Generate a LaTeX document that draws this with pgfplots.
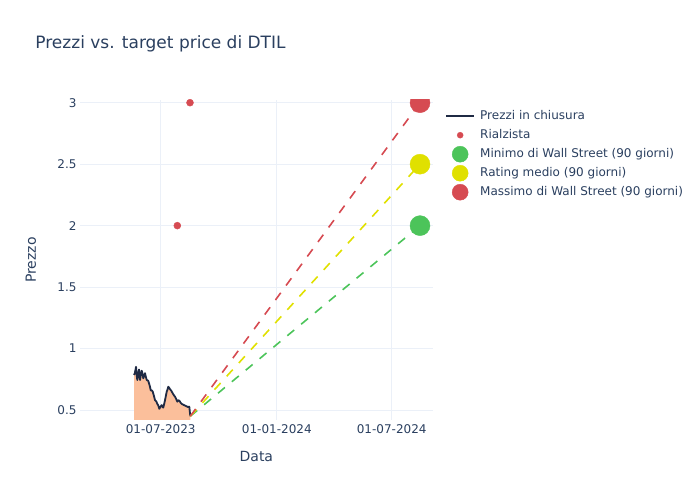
\documentclass[border=0pt]{standalone}
\usepackage{pgfplots}
\pgfplotsset{compat=1.18}
\usepackage{pgfplotstable}
\usepackage{fontspec}
\setmainfont{DejaVu Sans}
\definecolor{txt}{HTML}{2A3F5F}
\definecolor{gridc}{HTML}{EBF0F8}
\definecolor{pline}{HTML}{1F2A44}
\definecolor{pfill}{HTML}{FBBF9B}
\definecolor{cred}{HTML}{D64B52}
\definecolor{cgreen}{HTML}{4CC45A}
\definecolor{cyellow}{HTML}{E0E000}

\pgfplotstableread{
d p
-42.3 0.785
-41 0.80
-39.1 0.852
-38 0.78
-37.1 0.744
-36 0.78
-34.4 0.83
-33.5 0.79
-32.8 0.744
-31.5 0.79
-30.1 0.82
-29 0.80
-27.6 0.758
-26 0.78
-24.9 0.80
-23.5 0.77
-22.2 0.744
-20 0.74
-18.5 0.717
-17 0.69
-15.8 0.66
-14 0.66
-12.7 0.65
-11 0.62
-9.0 0.58
-7 0.57
-5.4 0.55
-4 0.54
-2.2 0.51
0 0.53
1.6 0.54
3 0.525
4.1 0.52
5.5 0.55
6.8 0.58
8 0.61
9.5 0.65
11 0.67
12.0 0.69
13.5 0.68
14.7 0.67
17 0.655
19.0 0.636
21 0.62
22.7 0.608
24.5 0.59
26.3 0.568
28 0.58
29.5 0.576
31.5 0.56
33.3 0.55
35 0.545
36.9 0.54
39 0.535
41.2 0.53
43 0.525
45.3 0.527
46.9 0.45
}\price

\begin{document}
\begin{tikzpicture}
\path[use as bounding box] (0,0) rectangle (700pt,500pt);
\begin{axis}[
  at={(80pt,80pt)}, anchor=south west, scale only axis,
  width=352.7pt, height=320pt,
  xmin=-127.9, xmax=431, ymin=0.419, ymax=3.022,
  axis line style={draw=none}, major tick length=0pt,
  xtick={0,184,366}, xticklabels={01-07-2023,01-01-2024,01-07-2024},
  ytick={0.5,1,1.5,2,2.5,3}, yticklabels={0.5,1,1.5,2,2.5,3},
  grid=major, major grid style={gridc, line width=1pt},
  tick label style={font=\fontsize{12}{14}\selectfont, text=txt},
  xticklabel style={yshift=-1pt},
  yticklabel style={xshift=0pt},
  title={Prezzi vs. target price di DTIL},
  title style={at={(axis description cs:-0.1365,1.156)}, anchor=west, font=\fontsize{17}{20}\selectfont, text=txt},
  xlabel={Data}, ylabel={Prezzo},
  xlabel style={at={(axis description cs:0.5,-0.1125)}, anchor=center, font=\fontsize{14}{16}\selectfont, text=txt},
  ylabel style={at={(axis description cs:-0.139,0.5)}, anchor=center, font=\fontsize{14}{16}\selectfont, text=txt},
  clip marker paths=true,
  legend style={draw=none, fill=none, at={(axis description cs:1.0263,0.975)}, anchor=north west,
    font=\fontsize{12}{14}\selectfont, text=txt, row sep=7pt,
    nodes={inner sep=0pt, text height=9pt, text depth=3pt},
    /tikz/every even column/.append style={column sep=0pt}},
  legend cell align=left,
]
\addplot[fill=pfill, draw=none, forget plot] table[x=d,y=p]{\price} \closedcycle;
\addplot[pline, line width=1.8pt, line join=round, forget plot] table[x=d,y=p]{\price};
\addplot[only marks, mark=*, mark size=3.5pt, cred, forget plot] coordinates {(26.3,2.0) (46.4,3.0)};
\addplot[cgreen, line width=1.6pt, dash pattern=on 9pt off 9pt, forget plot] coordinates {(46.9,0.45) (410.9,2.0)};
\addplot[cyellow, line width=1.6pt, dash pattern=on 9pt off 9pt, forget plot] coordinates {(46.9,0.45) (410.9,2.5)};
\addplot[cred, line width=1.6pt, dash pattern=on 9pt off 9pt, forget plot] coordinates {(46.9,0.45) (410.9,3.0)};
\addplot[only marks, mark=*, mark size=10pt, cgreen, forget plot] coordinates {(410.9,2.0)};
\addplot[only marks, mark=*, mark size=10pt, cyellow, forget plot] coordinates {(410.9,2.5)};
\addplot[only marks, mark=*, mark size=10pt, cred, forget plot] coordinates {(410.9,3.0)};

\addlegendimage{legend image code/.code={\path[draw=none,fill=none] (0pt,-6pt) rectangle (34pt,6pt); \draw[pline, line width=2pt] (0pt,0pt) -- (28pt,0pt);}}
\addlegendentry{Prezzi in chiusura}
\addlegendimage{legend image code/.code={\path[draw=none,fill=none] (0pt,-6pt) rectangle (34pt,6pt); \fill[cred] (14pt,0pt) circle (3pt);}}
\addlegendentry{Rialzista}
\addlegendimage{legend image code/.code={\path[draw=none,fill=none] (0pt,-6pt) rectangle (34pt,6pt); \fill[cgreen, overlay] (14pt,0pt) circle (8pt);}}
\addlegendentry{Minimo di Wall Street (90 giorni)}
\addlegendimage{legend image code/.code={\path[draw=none,fill=none] (0pt,-6pt) rectangle (34pt,6pt); \fill[cyellow, overlay] (14pt,0pt) circle (8pt);}}
\addlegendentry{Rating medio (90 giorni)}
\addlegendimage{legend image code/.code={\path[draw=none,fill=none] (0pt,-6pt) rectangle (34pt,6pt); \fill[cred, overlay] (14pt,0pt) circle (8pt);}}
\addlegendentry{Massimo di Wall Street (90 giorni)}
\end{axis}
\end{tikzpicture}
\end{document}
